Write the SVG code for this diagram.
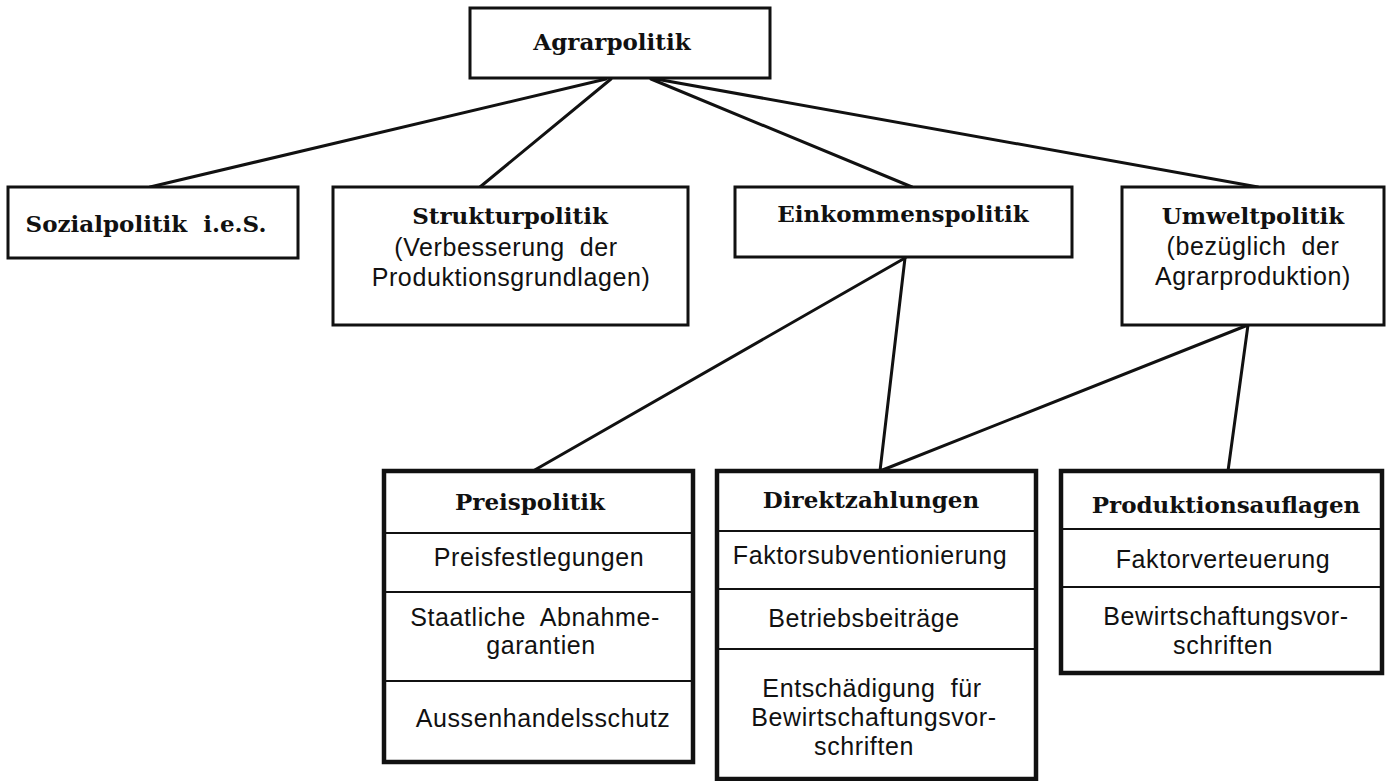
<svg xmlns="http://www.w3.org/2000/svg" width="1389" height="781" viewBox="0 0 1389 781">
<style>
.bg{fill:#ffffff}
.box{fill:#ffffff;stroke:#111;stroke-width:3}
.hbox{fill:#ffffff;stroke:#111;stroke-width:4.5}
.div{stroke:#111;stroke-width:2}
.con{stroke:#111;stroke-width:3;fill:none;stroke-linecap:round}
.t{font-family:"DejaVu Serif","Liberation Serif",serif;font-weight:bold;font-size:23px;fill:#111;text-anchor:middle}
.s{font-family:"Liberation Sans",Arial,sans-serif;font-size:25px;letter-spacing:0.6px;fill:#111;text-anchor:middle}
</style>
<rect class="bg" x="0" y="0" width="1389" height="781"/>
<g id="connectors">
<line class="con" x1="150" y1="187" x2="606" y2="79"/>
<line class="con" x1="480" y1="187" x2="611" y2="79"/>
<line class="con" x1="912" y1="187" x2="651" y2="79"/>
<line class="con" x1="1258" y1="187" x2="656" y2="79"/>
<line class="con" x1="905" y1="258" x2="533" y2="471"/>
<line class="con" x1="905" y1="258" x2="880" y2="471"/>
<line class="con" x1="1248" y1="325" x2="880" y2="471"/>
<line class="con" x1="1248" y1="325" x2="1228" y2="471"/>
</g>
<g id="agrarpolitik">
<rect class="box" x="470" y="8" width="300" height="70"/>
<text class="t" x="612" y="50">Agrarpolitik</text>
</g>
<g id="sozialpolitik">
<rect class="box" x="8" y="187" width="290" height="71"/>
<text class="t" x="146" y="232" xml:space="preserve">Sozialpolitik  i.e.S.</text>
</g>
<g id="strukturpolitik">
<rect class="box" x="333" y="187" width="355" height="138"/>
<text class="t" x="510" y="224">Strukturpolitik</text>
<text class="s" x="506" y="256" xml:space="preserve">(Verbesserung  der</text>
<text class="s" x="511" y="286">Produktionsgrundlagen)</text>
</g>
<g id="einkommenspolitik">
<rect class="box" x="735" y="187" width="337" height="70"/>
<text class="t" x="903" y="222">Einkommenspolitik</text>
</g>
<g id="umweltpolitik">
<rect class="box" x="1122" y="187" width="262" height="138"/>
<text class="t" x="1253" y="224">Umweltpolitik</text>
<text class="s" x="1253" y="255" xml:space="preserve">(bezüglich  der</text>
<text class="s" x="1253" y="285">Agrarproduktion)</text>
</g>
<g id="preispolitik">
<rect class="hbox" x="384" y="471" width="309" height="291"/>
<line class="div" x1="384" y1="533" x2="693" y2="533"/>
<line class="div" x1="384" y1="592" x2="693" y2="592"/>
<line class="div" x1="384" y1="681" x2="693" y2="681"/>
<text class="t" x="530" y="510">Preispolitik</text>
<text class="s" x="539" y="566">Preisfestlegungen</text>
<text class="s" x="535" y="626" xml:space="preserve">Staatliche  Abnahme-</text>
<text class="s" x="541" y="654">garantien</text>
<text class="s" x="543" y="727">Aussenhandelsschutz</text>
</g>
<g id="direktzahlungen">
<rect class="hbox" x="717" y="471" width="319" height="308"/>
<line class="div" x1="717" y1="531" x2="1036" y2="531"/>
<line class="div" x1="717" y1="589" x2="1036" y2="589"/>
<line class="div" x1="717" y1="649" x2="1036" y2="649"/>
<text class="t" x="871" y="508">Direktzahlungen</text>
<text class="s" x="870" y="564">Faktorsubventionierung</text>
<text class="s" x="864" y="627">Betriebsbeiträge</text>
<text class="s" x="872" y="697" xml:space="preserve">Entschädigung  für</text>
<text class="s" x="874" y="726">Bewirtschaftungsvor-</text>
<text class="s" x="864" y="755">schriften</text>
</g>
<g id="produktionsauflagen">
<rect class="hbox" x="1061" y="471" width="321" height="202"/>
<line class="div" x1="1061" y1="529" x2="1382" y2="529"/>
<line class="div" x1="1061" y1="587" x2="1382" y2="587"/>
<text class="t" x="1226" y="513">Produktionsauflagen</text>
<text class="s" x="1223" y="568">Faktorverteuerung</text>
<text class="s" x="1226" y="625">Bewirtschaftungsvor-</text>
<text class="s" x="1223" y="654">schriften</text>
</g>
</svg>
